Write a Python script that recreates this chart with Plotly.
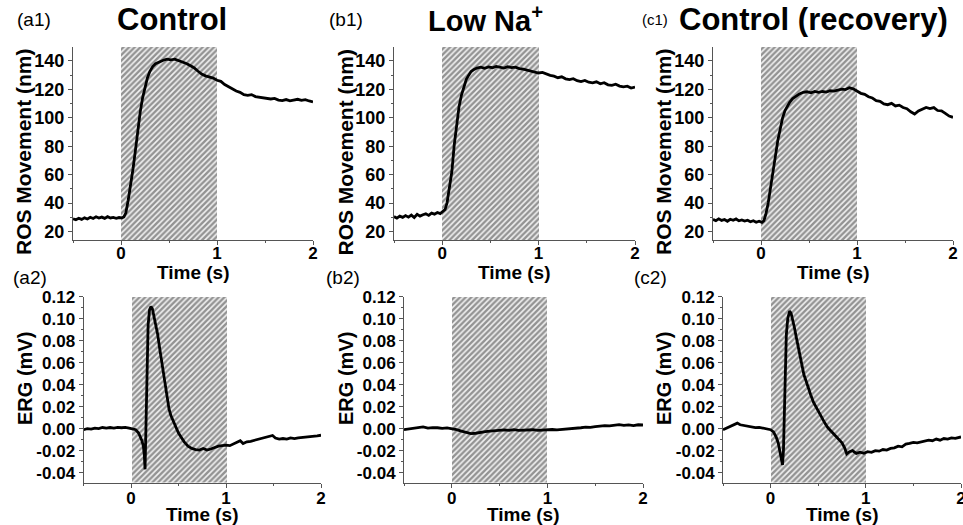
import plotly.graph_objects as go

# ---------------- data ----------------
t_ros = [-0.5, -0.47, -0.44, -0.41, -0.38, -0.35, -0.32, -0.29, -0.26, -0.23, -0.2, -0.17, -0.14,
         -0.11, -0.08, -0.05, -0.02, 0.01, 0.03,
         0.05, 0.075, 0.1, 0.125, 0.15, 0.175, 0.2, 0.225, 0.25, 0.275, 0.3,
         0.33, 0.36,
         0.4, 0.44, 0.48, 0.52, 0.56, 0.6, 0.64, 0.68, 0.72, 0.76, 0.8, 0.84, 0.88, 0.92, 0.96, 1.0,
         1.04, 1.08, 1.12, 1.16, 1.2, 1.24, 1.28, 1.32, 1.36, 1.4, 1.44, 1.48, 1.52, 1.56, 1.6,
         1.64, 1.68, 1.72, 1.76, 1.8, 1.84, 1.88, 1.92, 1.96, 2.0]

ros_control = [29.0, 28.2, 29.3, 28.5, 29.6, 28.8, 30.0, 29.1, 30.3, 29.4, 30.1, 29.2, 30.4, 29.5,
               29.9, 29.3, 29.8, 29.6, 30.2,
               33, 42, 52, 64, 77, 91, 104, 114, 122, 128, 132.5,
               136, 138,
               139.5, 140.5, 141.3, 140.8, 141.2, 140.2, 139.4, 138.2, 136.8, 135.2, 132.9, 130.8,
               129.5, 128.6, 127.9, 126.4,
               125.6, 123.4, 121.9, 120.2, 118.8, 117.9, 116.2, 115.8, 116.3, 114.9, 114.6, 114.1,
               113.8, 113.2, 113.6, 112.4, 112.1, 112.8, 111.9, 112.6, 113.0, 112.2, 112.7, 111.8, 111.2]

ros_lowna = [30.5, 29.4, 30.8, 29.9, 31.2, 30.1, 31.5, 29.8, 32.1, 30.8, 31.8, 32.4, 31.3, 32.9,
             32.2, 33.4, 32.6, 34.0, 35.5,
             40, 50, 62, 81, 96, 108, 116, 122, 127, 130, 132.5,
             134, 135,
             135.6, 134.8, 135.8, 135.2, 136.1, 135.4, 135.0, 135.9, 135.3, 135.6, 134.6, 134.2,
             133.5, 132.9, 132.4, 131.5,
             131.9, 130.6, 129.8, 129.3, 128.2, 128.8, 127.4, 126.8, 127.5, 126.1, 125.4, 126.3,
             125.0, 124.6, 125.3, 123.9, 124.7, 123.2, 122.8, 123.6, 122.3, 121.7, 122.2, 120.9, 121.6]

ros_recovery = [28.5, 27.6, 28.9, 27.8, 28.4, 27.2, 28.6, 27.9, 28.8, 27.5, 28.1, 27.3, 27.9, 26.8,
                27.6, 26.5, 27.2, 26.4, 27.5,
                32, 40, 50, 60, 73, 84, 93, 100, 105, 108.5, 111,
                113.5, 115.2,
                116.8, 117.9, 118.3, 117.6, 118.5, 117.9, 118.6, 118.1, 119.0, 118.7, 119.6, 120.2,
                119.8, 121.1, 120.3, 118.8,
                117.2, 116.5, 114.8, 113.9, 112.1, 111.6, 109.8, 109.2, 110.1, 108.3, 108.9, 107.2,
                106.4, 104.2, 102.6, 104.8, 106.1, 107.3, 106.5, 107.2, 105.1, 104.8, 103.1, 101.2, 100.3]

t_erg_a = [-0.5, -0.46, -0.42, -0.38, -0.34, -0.3, -0.26, -0.22, -0.18, -0.14, -0.1, -0.06, -0.02,
           0.02, 0.05, 0.08, 0.1, 0.115, 0.13, 0.14, 0.148, 0.158, 0.168, 0.18, 0.195, 0.21, 0.225,
           0.24, 0.26, 0.28, 0.3, 0.32, 0.34, 0.36, 0.38, 0.4, 0.42, 0.44, 0.46, 0.48, 0.5, 0.53,
           0.56, 0.6, 0.64, 0.68, 0.72, 0.76, 0.8, 0.84, 0.88, 0.92, 0.96, 1.0, 1.04, 1.08, 1.12,
           1.15, 1.18, 1.22, 1.26, 1.3, 1.34, 1.38, 1.42, 1.46, 1.49, 1.52, 1.56, 1.6, 1.64, 1.68,
           1.72, 1.76, 1.8, 1.84, 1.88, 1.92, 1.96, 2.0]
erg_control = [-0.001, 0.0, -0.0005, 0.0005, 0.0, 0.001, 0.0005, 0.001, 0.0005, 0.0012, 0.0008,
               0.0012, 0.0005, 0.0, -0.001, -0.004, -0.008, -0.011, -0.016, -0.024, -0.037, 0.01,
               0.06, 0.094, 0.108, 0.111, 0.109, 0.103, 0.096, 0.086, 0.074, 0.062, 0.050, 0.039,
               0.028, 0.018, 0.012, 0.008, 0.004, 0.0, -0.004, -0.008, -0.012, -0.016, -0.018,
               -0.019, -0.0195, -0.018, -0.0195, -0.0185, -0.017, -0.016, -0.0155, -0.015, -0.0155,
               -0.014, -0.0125, -0.011, -0.0135, -0.012, -0.0115, -0.0105, -0.010, -0.009, -0.008,
               -0.0072, -0.0062, -0.0085, -0.0095, -0.009, -0.0095, -0.0085, -0.009, -0.0085,
               -0.0082, -0.0078, -0.0075, -0.007, -0.0065, -0.006]

t_erg_b = [-0.5, -0.45, -0.4, -0.35, -0.3, -0.25, -0.2, -0.15, -0.1, -0.05, 0.0, 0.05, 0.1, 0.15,
           0.2, 0.25, 0.3, 0.35, 0.4, 0.45, 0.5, 0.55, 0.6, 0.65, 0.7, 0.75, 0.8, 0.85, 0.9, 0.95,
           1.0, 1.05, 1.1, 1.15, 1.2, 1.25, 1.3, 1.35, 1.4, 1.45, 1.5, 1.55, 1.6, 1.65, 1.7, 1.75,
           1.8, 1.85, 1.9, 1.95, 2.0]
erg_lowna = [-0.001, -0.0005, 0.0, 0.001, 0.0015, 0.0005, 0.001, 0.0008, 0.0003, 0.0006, 0.0,
             -0.001, -0.0022, -0.0035, -0.0045, -0.0042, -0.0032, -0.0028, -0.0022, -0.0018,
             -0.0016, -0.0012, -0.0015, -0.001, -0.0016, -0.0012, -0.0014, -0.001, -0.0015,
             -0.0011, -0.0013, -0.0008, -0.0012, -0.0009, -0.0005, 0.0, 0.0003, 0.0008, 0.0013,
             0.0011, 0.0018, 0.0022, 0.0028, 0.0025, 0.0033, 0.0036, 0.003, 0.0034, 0.0028,
             0.0035, 0.0033]

t_erg_c = [-0.5, -0.46, -0.42, -0.38, -0.35, -0.32, -0.28, -0.24, -0.2, -0.16, -0.12, -0.08, -0.04,
           0.0, 0.03, 0.06, 0.08, 0.1, 0.115, 0.125, 0.135, 0.15, 0.165, 0.18, 0.2, 0.215, 0.23,
           0.25, 0.27, 0.29, 0.31, 0.33, 0.35, 0.37, 0.39, 0.42, 0.45, 0.48, 0.51, 0.54, 0.57, 0.6,
           0.63, 0.66, 0.69, 0.72, 0.75, 0.78, 0.8, 0.83, 0.86, 0.9, 0.94, 0.98, 1.02, 1.06, 1.1,
           1.14, 1.18, 1.22, 1.26, 1.3, 1.34, 1.38, 1.42, 1.46, 1.5, 1.54, 1.58, 1.62, 1.66, 1.7,
           1.74, 1.78, 1.82, 1.86, 1.9, 1.94, 1.98, 2.0]
erg_recovery = [-0.001, 0.0005, 0.002, 0.004, 0.005, 0.0035, 0.003, 0.0022, 0.0018, 0.001, 0.0012,
                0.0003, 0.0, -0.001, -0.003, -0.008, -0.013, -0.021, -0.028, -0.033, -0.02, 0.045,
                0.085, 0.1, 0.107, 0.105, 0.1, 0.092, 0.083, 0.074, 0.064, 0.056, 0.049, 0.044,
                0.038, 0.031, 0.024, 0.019, 0.014, 0.009, 0.005, 0.001, -0.002, -0.005, -0.008,
                -0.010, -0.013, -0.018, -0.023, -0.021, -0.02, -0.0225, -0.0215, -0.0225, -0.021,
                -0.0215, -0.02, -0.0205, -0.019, -0.0195, -0.018, -0.0175, -0.016, -0.0165, -0.014,
                -0.0135, -0.0125, -0.013, -0.012, -0.0115, -0.0105, -0.011, -0.0095, -0.0105,
                -0.009, -0.0095, -0.0085, -0.0088, -0.0078, -0.0076]

stim_on = 0.0
stim_off = 1.0

panel_titles = ["Control", "Low Na<sup>+</sup>", "Control (recovery)"]
panel_labels_top = ["(a1)", "(b1)", "(c1)"]
panel_labels_bottom = ["(a2)", "(b2)", "(c2)"]
x_title = "Time (s)"
ros_title = "ROS Movement (nm)"
erg_title = "ERG (mV)"

x_range = [-0.5, 2.0]
x_tickvals = [0, 1, 2]
x_ticktext = ["0", "1", "2"]
x_minor = [-0.5, 0.5, 1.5]

ros_range = [14, 150]
ros_tickvals = [20, 40, 60, 80, 100, 120, 140]
ros_ticktext = ["20", "40", "60", "80", "100", "120", "140"]
ros_minor = [30, 50, 70, 90, 110, 130]

erg_range = [-0.049, 0.12]
erg_tickvals = [-0.04, -0.02, 0.0, 0.02, 0.04, 0.06, 0.08, 0.10, 0.12]
erg_ticktext = ["-0.04", "-0.02", "0.00", "0.02", "0.04", "0.06", "0.08", "0.10", "0.12"]
erg_minor = [-0.03, -0.01, 0.01, 0.03, 0.05, 0.07, 0.09, 0.11]

# ---------------- layout geometry ----------------
W, H = 963, 525
FONT = "Liberation Sans, Arial, sans-serif"

def px_x(a, b):
    return [a / W, b / W]

def px_y(top, bottom):
    return [1 - bottom / H, 1 - top / H]

top_x = [px_x(73, 313), px_x(394, 635), px_x(713, 953)]
bot_x = [px_x(83.5, 321), px_x(404, 643), px_x(723, 961)]
top_y = px_y(46.7, 240)
bot_y = px_y(296.7, 482.5)

fig = go.Figure()

ros_series = [ros_control, ros_lowna, ros_recovery]
erg_t = [t_erg_a, t_erg_b, t_erg_c]
erg_series = [erg_control, erg_lowna, erg_recovery]

pattern = dict(shape="/", size=4, solidity=0.6, fgcolor="#333333", bgcolor="#f2f2f2")

for i in range(3):
    xa = f"x{i + 1}" if i else "x"
    ya = f"y{i + 1}" if i else "y"
    fig.add_trace(go.Bar(x=[(stim_on + stim_off) / 2], y=[ros_range[1] - ros_range[0]],
                         base=[ros_range[0]], width=[stim_off - stim_on],
                         marker=dict(color="#f2f2f2", line=dict(width=0), pattern=pattern),
                         xaxis=xa, yaxis=ya, showlegend=False, hoverinfo="skip"))
    fig.add_trace(go.Scatter(x=t_ros, y=ros_series[i], mode="lines",
                             line=dict(color="black", width=2.8),
                             xaxis=xa, yaxis=ya, showlegend=False))
    j = i + 4
    xb = f"x{j}"
    yb = f"y{j}"
    fig.add_trace(go.Bar(x=[(stim_on + stim_off) / 2], y=[erg_range[1] - erg_range[0]],
                         base=[erg_range[0]], width=[stim_off - stim_on],
                         marker=dict(color="#f2f2f2", line=dict(width=0), pattern=pattern),
                         xaxis=xb, yaxis=yb, showlegend=False, hoverinfo="skip"))
    fig.add_trace(go.Scatter(x=erg_t[i], y=erg_series[i], mode="lines",
                             line=dict(color="black", width=2.8),
                             xaxis=xb, yaxis=yb, showlegend=False))

axis_common = dict(showline=True, linecolor="#555", linewidth=1, mirror=False,
                   showgrid=False, zeroline=False, ticks="outside", ticklen=4,
                   tickcolor="#555", tickwidth=1, fixedrange=True, automargin=False,
                   ticklabeloverflow="allow")

layout = {}
for i in range(3):
    sfx_top = str(i + 1) if i else ""
    sfx_bot = str(i + 4)
    layout["xaxis" + sfx_top] = dict(
        axis_common, domain=top_x[i], anchor="y" + sfx_top, range=x_range,
        tickmode="array", tickvals=x_tickvals, ticktext=x_ticktext, ticklabelstandoff=-6,
        minor=dict(tickmode="array", tickvals=x_minor, ticks="outside", ticklen=2, tickcolor="#555"),
        tickfont=dict(family=FONT, size=17, color="black", weight="bold"))
    layout["yaxis" + sfx_top] = dict(
        axis_common, domain=top_y, anchor="x" + sfx_top, range=ros_range,
        tickmode="array", tickvals=ros_tickvals, ticktext=ros_ticktext,
        minor=dict(tickmode="array", tickvals=ros_minor, ticks="outside", ticklen=2, tickcolor="#555"),
        tickfont=dict(family=FONT, size=18, color="black", weight="bold"))
    layout["xaxis" + sfx_bot] = dict(
        axis_common, domain=bot_x[i], anchor="y" + sfx_bot, range=x_range,
        tickmode="array", tickvals=x_tickvals, ticktext=x_ticktext, ticklabelstandoff=-4,
        minor=dict(tickmode="array", tickvals=x_minor, ticks="outside", ticklen=2, tickcolor="#555"),
        tickfont=dict(family=FONT, size=17, color="black", weight="bold"))
    layout["yaxis" + sfx_bot] = dict(
        axis_common, domain=bot_y, anchor="x" + sfx_bot, range=erg_range,
        tickmode="array", tickvals=erg_tickvals, ticktext=erg_ticktext,
        minor=dict(tickmode="array", tickvals=erg_minor, ticks="outside", ticklen=2, tickcolor="#555"),
        tickfont=dict(family=FONT, size=17, color="black", weight="bold"))

annotations = []

def add_text(text, xpx, ypx, size, bold=True, xanchor="center", angle=0):
    annotations.append(dict(text=text, x=xpx / W, y=1 - ypx / H, xref="paper", yref="paper",
                            xanchor=xanchor, yanchor="middle", showarrow=False, textangle=angle,
                            font=dict(family=FONT, size=size, color="black",
                                      weight="bold" if bold else "normal")))

title_cx = [171.7, 486, 813]
title_size = [31, 29, 31]
for i in range(3):
    add_text(panel_titles[i], title_cx[i], 19, title_size[i])

label_top_x = [15, 327, 640]
label_top_size = [19, 19, 15]
for i in range(3):
    add_text(panel_labels_top[i], label_top_x[i], 20, label_top_size[i], bold=False, xanchor="left")

label_bot_x = [11, 324, 632]
for i in range(3):
    add_text(panel_labels_bottom[i], label_bot_x[i], 277, 19, bold=False, xanchor="left")

# axis titles
ros_title_x = [23, 344.5, 663]
erg_title_x = [25, 346, 664]
for i in range(3):
    add_text(ros_title, ros_title_x[i], 152, 21, angle=-90)
    add_text(erg_title, erg_title_x[i], 379, 20, angle=-90)
    add_text(x_title, (top_x[i][0] + top_x[i][1]) / 2 * W, 272, 19)
    add_text(x_title, (bot_x[i][0] + bot_x[i][1]) / 2 * W, 514, 19)

fig.update_layout(
    width=W, height=H,
    margin=dict(l=0, r=0, t=0, b=0),
    paper_bgcolor="white", plot_bgcolor="white",
    showlegend=False, bargap=0,
    annotations=annotations,
    **layout,
)

fig.write_html("out.html", config={"displayModeBar": False},
               post_script="document.body.style.margin='0';document.body.style.overflow='hidden';")
